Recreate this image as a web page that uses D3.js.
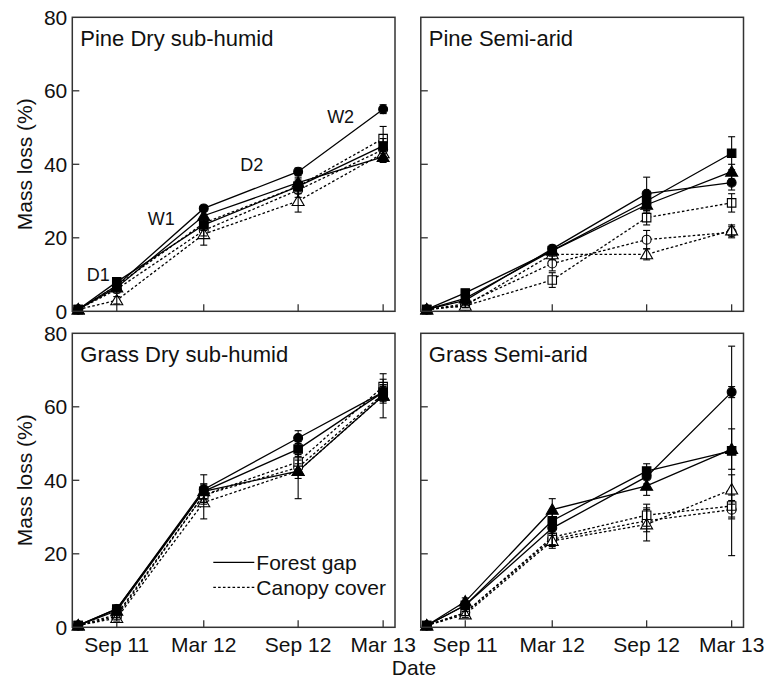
<!DOCTYPE html>
<html><head><meta charset="utf-8">
<script src="https://cdn.jsdelivr.net/npm/d3@7"></script>
<style>body{margin:0;background:#fff}svg{display:block;font-family:"Liberation Sans",Arial,sans-serif}</style>
</head><body><svg id="c" width="766" height="679"></svg>
<script>
// ---- data ----
const sampleDates = ["2011-06-29","2011-09-15","2012-03-09","2012-09-16","2013-03-07"];
const tickDates = ["2011-09-15","2012-03-09","2012-09-16","2013-03-07"];
const tickLabels = ["Sep 11","Mar 12","Sep 12","Mar 13"];
const yTicks = [0,20,40,60,80];
const panelTitles = ["Pine Dry sub-humid","Pine Semi-arid","Grass Dry sub-humid","Grass Semi-arid"];
const seriesNames = ["gapCircle","gapSquare","gapTriangle","canopyCircle","canopySquare","canopyTriangle"];
const seriesTreatment = ["Forest gap","Forest gap","Forest gap","Canopy cover","Canopy cover","Canopy cover"];
const seriesShape = ["circle","square","triangle","circle","square","triangle"];

// Pine Dry sub-humid
const pineDryMean = [
  [0.5, 7, 28, 38, 55],
  [0.5, 8, 23.5, 34, 45],
  [0.5, 6.5, 26, 35, 42],
  [0.5, 6, 22, 33, 44],
  [0.5, 7, 24, 34, 47],
  [0.5, 3, 21, 30, 43]
];
const pineDryErr = [
  [0.3, 0.8, 0.8, 1, 1.2],
  [0.3, 1, 1.5, 1.5, 2],
  [0.3, 1, 1.5, 1.5, 1.5],
  [0.3, 1, 1.5, 2, 2],
  [0.3, 1, 1.5, 2, 3.3],
  [0.3, 1, 3, 3, 2]
];
// Pine Semi-arid
const pineSemiMean = [
  [0.5, 3, 17, 32, 35],
  [0.5, 5, 16.5, 30, 43],
  [0.5, 3.5, 16.5, 29, 38],
  [0.5, 2, 13, 19.5, 21.5],
  [0.5, 1.5, 8.5, 25.5, 29.5],
  [0.5, 1.5, 15.5, 15.5, 22]
];
const pineSemiErr = [
  [0.3, 0.5, 1, 4.5, 2],
  [0.3, 0.8, 1, 2, 4.5],
  [0.3, 0.5, 1, 2, 2],
  [0.3, 0.5, 2, 2.5, 1.5],
  [0.3, 0.5, 2, 2, 2.5],
  [0.3, 0.5, 1.5, 1.5, 1.5]
];
// Grass Dry sub-humid
const grassDryMean = [
  [0.5, 5, 37.5, 51.5, 64],
  [0.5, 5, 37, 48.5, 64],
  [0.5, 4.5, 37, 42.5, 63],
  [0.5, 3, 36, 43.5, 63.5],
  [0.5, 3.5, 36, 45, 65.5],
  [0.5, 2.5, 34, 42.5, 63]
];
const grassDryErr = [
  [0.3, 0.8, 4, 2, 2],
  [0.3, 0.8, 2, 2, 2],
  [0.3, 0.8, 2, 7.5, 6],
  [0.3, 0.8, 2, 2, 2],
  [0.3, 0.8, 2, 2, 2],
  [0.3, 0.8, 4.5, 2, 2]
];
// Grass Semi-arid
const grassSemiMean = [
  [0.5, 6, 27, 41, 64],
  [0.5, 6, 29, 42.5, 48],
  [0.5, 7, 32, 38.5, 48.5],
  [0.5, 4, 24, 29, 32],
  [0.5, 4, 24.5, 30.5, 33],
  [0.5, 3.5, 23.5, 28, 37.5]
];
const grassSemiErr = [
  [0.3, 1, 2, 2, 1.5],
  [0.3, 1, 2, 2, 28.5],
  [0.3, 1, 3, 2.6, 5.5],
  [0.3, 0.8, 1.5, 3, 2.5],
  [0.3, 0.8, 3, 3, 3],
  [0.3, 0.8, 1.5, 4.5, 4]
];
const annotations = [
  {label:"D1", date:"2011-09-15", value:8},
  {label:"W1", date:"2012-03-09", value:28},
  {label:"D2", date:"2012-09-16", value:38},
  {label:"W2", date:"2013-03-07", value:55}
];

// ---- layout ----
const svg = d3.select("#c");
const W = 322.7, H = 294;
const lefts = [72.3, 420.8], tops = [17.3, 333.3];
const panels = [
  {title:panelTitles[0], mean:pineDryMean, err:pineDryErr, col:0, row:0},
  {title:panelTitles[1], mean:pineSemiMean, err:pineSemiErr, col:1, row:0},
  {title:panelTitles[2], mean:grassDryMean, err:grassDryErr, col:0, row:1},
  {title:panelTitles[3], mean:grassSemiMean, err:grassSemiErr, col:1, row:1}
];
const parse = d => new Date(d + "T00:00:00Z");
const x = d3.scaleUtc().domain([parse("2011-06-17"), parse("2013-03-31")]).range([0, W]);
const y = d3.scaleLinear().domain([0, 80]).range([H, 0]);
const symType = {circle:d3.symbolCircle, square:d3.symbolSquare, triangle:d3.symbolTriangle};
const symSize = {circle:62, square:72, triangle:62};
const ink = "#111";

panels.forEach((p, pi) => {
  const g = svg.append("g").attr("transform", `translate(${lefts[p.col]},${tops[p.row]})`);
  g.selectAll(".yt").data(yTicks.filter(v => v > 0 && v < 80)).join("line")
    .attr("x1", 0).attr("x2", 7).attr("y1", d => y(d)).attr("y2", d => y(d))
    .attr("stroke", "#333").attr("stroke-width", 1.3);
  g.selectAll(".xt").data(tickDates).join("line")
    .attr("x1", d => x(parse(d))).attr("x2", d => x(parse(d)))
    .attr("y1", H).attr("y2", H - 7)
    .attr("stroke", "#333").attr("stroke-width", 1.3);
  if (p.col === 0) {
    g.selectAll(".yl").data(yTicks).join("text")
      .attr("x", -5).attr("y", d => y(d)).attr("dy", "0.36em")
      .attr("text-anchor", "end").attr("font-size", 21).attr("fill", ink)
      .text(d => d);
  }
  if (p.row === 1) {
    g.selectAll(".xl").data(tickDates).join("text")
      .attr("x", d => x(parse(d))).attr("y", H + 25)
      .attr("text-anchor", "middle").attr("font-size", 21).attr("fill", ink)
      .text((d, i) => tickLabels[i]);
  }
  const line = d3.line().x((d, i) => x(parse(sampleDates[i]))).y(d => y(d));
  const order = [3,4,5,0,1,2];
  order.forEach(si => {
    g.append("path").datum(p.mean[si]).attr("d", line)
      .attr("fill", "none").attr("stroke", "#000").attr("stroke-width", 1.3)
      .attr("stroke-dasharray", seriesTreatment[si] === "Canopy cover" ? "2.6,2.2" : null);
  });
  order.forEach(si => {
    const open = seriesTreatment[si] === "Canopy cover";
    const sh = seriesShape[si];
    g.selectAll(null).data(p.mean[si]).join("path")
      .attr("d", d3.symbol().type(symType[sh]).size(symSize[sh]))
      .attr("transform", (d, i) => `translate(${x(parse(sampleDates[i]))},${y(d) + (sh === "triangle" ? 1 : 0)})`)
      .attr("fill", open ? "#fff" : "#000").attr("stroke", "#000").attr("stroke-width", 1.1);
  });
  order.forEach(si => {
    p.mean[si].forEach((m, i) => {
      const e = p.err[si][i];
      const cx = x(parse(sampleDates[i]));
      const y1 = y(m + e), y2 = y(m - e);
      g.append("line").attr("x1", cx).attr("x2", cx).attr("y1", y1).attr("y2", y2)
        .attr("stroke", "#000").attr("stroke-width", 1.1);
      [y1, y2].forEach(yy => g.append("line").attr("x1", cx - 3.5).attr("x2", cx + 3.5)
        .attr("y1", yy).attr("y2", yy).attr("stroke", "#000").attr("stroke-width", 1.1));
    });
  });
  g.append("rect").attr("width", W).attr("height", H).attr("fill", "none")
    .attr("stroke", "#333").attr("stroke-width", 1.5);
  g.append("text").attr("x", 8).attr("y", 29).attr("font-size", 22).attr("fill", ink).text(p.title);
  if (pi === 0) {
    const offs = {D1:[-30, -1], W1:[-56, 17], D2:[-58, -1], W2:[-56, 14]};
    g.selectAll(".ann").data(annotations).join("text")
      .attr("x", d => x(parse(d.date)) + offs[d.label][0])
      .attr("y", d => y(d.value) + offs[d.label][1])
      .attr("font-size", 18).attr("fill", ink).text(d => d.label);
  }
  if (pi === 2) {
    const lg = [{t:"Forest gap", dash:null, yy:229}, {t:"Canopy cover", dash:"2.6,2.2", yy:254}];
    lg.forEach(l => {
      g.append("line").attr("x1", 141).attr("x2", 182).attr("y1", l.yy).attr("y2", l.yy)
        .attr("stroke", "#000").attr("stroke-width", 1.3).attr("stroke-dasharray", l.dash);
      g.append("text").attr("x", 184).attr("y", l.yy + 7.5).attr("font-size", 21).attr("fill", ink).text(l.t);
    });
  }
});
[tops[0] + H / 2, tops[1] + H / 2].forEach(cy => {
  svg.append("text").attr("transform", `translate(32,${cy}) rotate(-90)`)
    .attr("text-anchor", "middle").attr("font-size", 21).attr("fill", ink).text("Mass loss (%)");
});
svg.append("text").attr("x", 414).attr("y", 675).attr("text-anchor", "middle")
  .attr("font-size", 21).attr("fill", ink).text("Date");
</script></body></html>
